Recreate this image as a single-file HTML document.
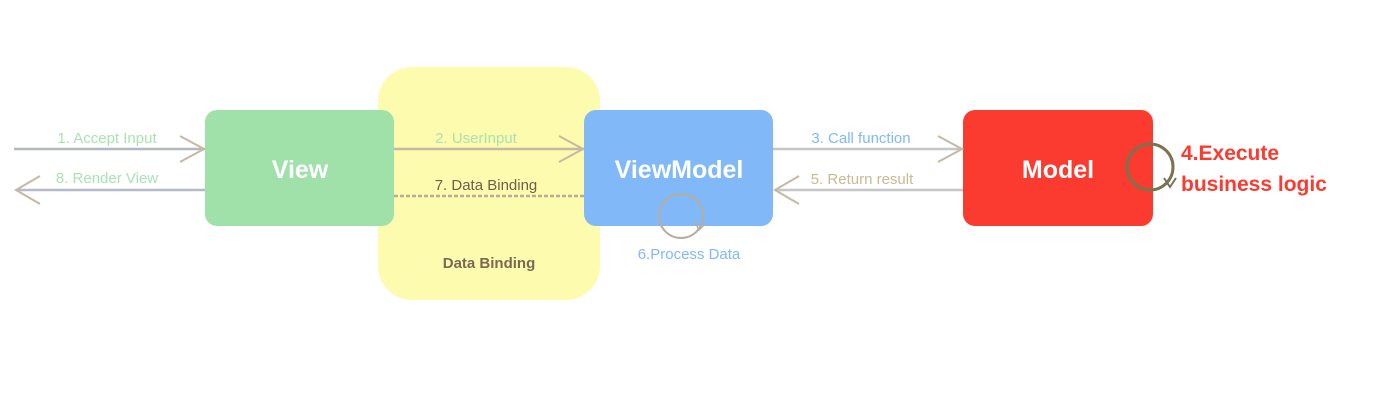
<!DOCTYPE html>
<html><head><style>
body{margin:0;width:1400px;height:404px;background:#fff;overflow:hidden;font-family:"Liberation Sans",sans-serif}
</style></head><body>
<svg width="1400" height="404" xmlns="http://www.w3.org/2000/svg" font-family="Liberation Sans, sans-serif">
<rect x="378" y="67" width="222" height="233" rx="34" fill="#fdfbad"/>
<rect x="205" y="110" width="189" height="116" rx="12" fill="#9fe1a8"/>
<rect x="584" y="110" width="189" height="116" rx="12" fill="#80b8f8"/>
<rect x="963" y="110" width="190" height="116" rx="12" fill="#fb3b30"/>
<text x="300" y="178" fill="#fff" font-size="25" font-weight="bold" text-anchor="middle">View</text>
<text x="679" y="178" fill="#fff" font-size="25" font-weight="bold" text-anchor="middle">ViewModel</text>
<text x="1058" y="178" fill="#fff" font-size="25" font-weight="bold" text-anchor="middle">Model</text>
<text x="489" y="268" fill="#7a6a55" font-size="15" font-weight="bold" text-anchor="middle">Data Binding</text>
<g fill="none" stroke-width="2.5">
<line x1="14" y1="149" x2="205" y2="149" stroke="#b5b7c0"/>
<polyline points="180,136 204,149 180,162" stroke="#c6b8a5" stroke-width="2"/>
<line x1="18" y1="190" x2="205" y2="190" stroke="#b5b9c8"/>
<polyline points="40,176 16,190 40,204" stroke="#c6b8a5" stroke-width="2"/>
<line x1="394" y1="149" x2="584" y2="149" stroke="#c6b8a5"/>
<polyline points="559,136 583,149 559,162" stroke="#c6b8a5" stroke-width="2"/>
<line x1="394" y1="196" x2="584" y2="196" stroke="#bca99a" stroke-dasharray="4,2"/>
<line x1="773" y1="149" x2="963" y2="149" stroke="#c6c6c6"/>
<polyline points="938,136 962,149 938,162" stroke="#c6b8a5" stroke-width="2"/>
<line x1="775" y1="190" x2="963" y2="190" stroke="#c6c6c6"/>
<polyline points="799,176 775,190 799,204" stroke="#c6b8a5" stroke-width="2"/>
<circle cx="1150" cy="167" r="23" stroke="#7a7350" stroke-width="3"/>
<polyline points="1164,178 1170,187 1176,178" stroke="#7a7350" stroke-width="2"/>
<circle cx="681" cy="216" r="22" stroke="#b5ad9d" stroke-width="2"/>
<polyline points="695,222 699,230 705,224" stroke="#b5ad9d" stroke-width="1.5"/>
</g>
<text x="107" y="143" fill="#a9e2b3" font-size="15" text-anchor="middle">1. Accept Input</text>
<text x="107" y="183" fill="#a9e2b3" font-size="15" text-anchor="middle">8. Render View</text>
<text x="476" y="143" fill="#a9e2b3" font-size="15" text-anchor="middle">2. UserInput</text>
<text x="486" y="190" fill="#6d604d" font-size="15" text-anchor="middle">7. Data Binding</text>
<text x="861" y="143" fill="#80b8f8" font-size="15" text-anchor="middle">3. Call function</text>
<text x="862" y="184" fill="#c9b995" font-size="15" text-anchor="middle">5. Return result</text>
<text x="689" y="259" fill="#80b8f8" font-size="15" text-anchor="middle">6.Process Data</text>
<text x="1181" y="160" fill="#fb3b30" font-size="21" font-weight="bold">4.Execute</text>
<text x="1181" y="191" fill="#fb3b30" font-size="21" font-weight="bold">business logic</text>
</svg>
</body></html>
